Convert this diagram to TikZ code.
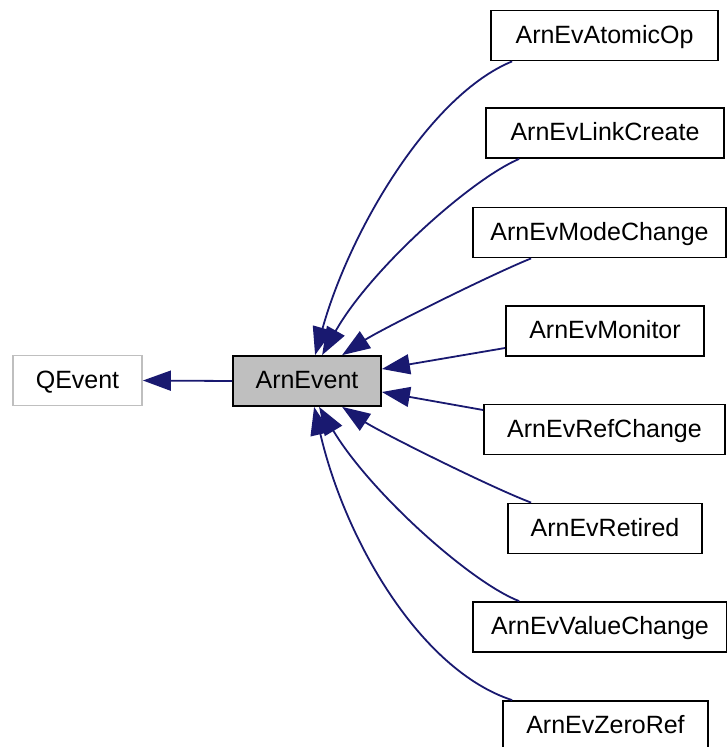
\documentclass[tikz,border=0pt]{standalone}
\usepackage{fontspec}
\setmainfont{Liberation Sans}
\usepackage{tikz}
\usetikzlibrary{arrows.meta,positioning,calc}
\definecolor{inhblue}{HTML}{191970}
\definecolor{boxgray}{HTML}{BFBFBF}
\tikzset{
  cls/.style={draw, line width=1.8pt, minimum height=50pt, inner sep=0pt,
    text height=18pt, text depth=3pt, font=\fontsize{25}{30}\selectfont},
  inh/.style={inhblue, line width=1.8pt, {Triangle[length=28pt,width=20pt]}-},
}
\begin{document}
\begin{tikzpicture}[x=1pt, y=-1pt]
  \useasboundingbox (0,0) rectangle (726,747);

  \node[cls, fill=boxgray, minimum width=148pt] (arnevent) at (307,381) {ArnEvent};
  \node[cls, draw=boxgray, minimum width=129pt] (qevent) at (77.5,380.5) {QEvent};

  \node[cls, minimum width=227pt] (atomicop) at (604.5,35.5) {ArnEvAtomicOp};
  \node[cls, minimum width=238pt] (linkcreate) at (605,133) {ArnEvLinkCreate};
  \node[cls, minimum width=253pt] (modechange) at (599.5,232.5) {ArnEvModeChange};
  \node[cls, minimum width=198pt] (monitor) at (605,331) {ArnEvMonitor};
  \node[cls, minimum width=241pt] (refchange) at (604.5,429.5) {ArnEvRefChange};
  \node[cls, minimum width=194pt] (retired) at (605,528.5) {ArnEvRetired};
  \node[cls, minimum width=254pt] (valuechange) at (600,627) {ArnEvValueChange};
  \node[cls, minimum width=205pt] (zeroref) at (605.5,726) {ArnEvZeroRef};

  \draw[inh] (qevent.east) -- (arnevent.west);

  \draw[inh] ([xshift=83pt]arnevent.north west) .. controls (350,230) and (430,95) .. ([xshift=22pt]atomicop.south west);
  \draw[inh] ([xshift=90pt]arnevent.north west) .. controls (370,270) and (470,180) .. ([xshift=34pt]linkcreate.south west);
  \draw[inh] ([xshift=110pt]arnevent.north west) .. controls (380,330) and (490,275) .. ([xshift=59pt]modechange.south west);
  \draw[inh] ([yshift=12pt]arnevent.east) -- ([yshift=-17pt]monitor.west);
  \draw[inh] ([yshift=-11pt]arnevent.east) -- ([yshift=19.5pt]refchange.west);
  \draw[inh] ([xshift=110pt]arnevent.south west) .. controls (380,432) and (490,487) .. ([xshift=24pt]retired.north west);
  \draw[inh] ([xshift=87pt]arnevent.south west) .. controls (370,492) and (470,582) .. ([xshift=47pt]valuechange.north west);
  \draw[inh] ([xshift=82pt]arnevent.south west) .. controls (345,540) and (420,670) .. ([xshift=10pt]zeroref.north west);
\end{tikzpicture}
\end{document}
